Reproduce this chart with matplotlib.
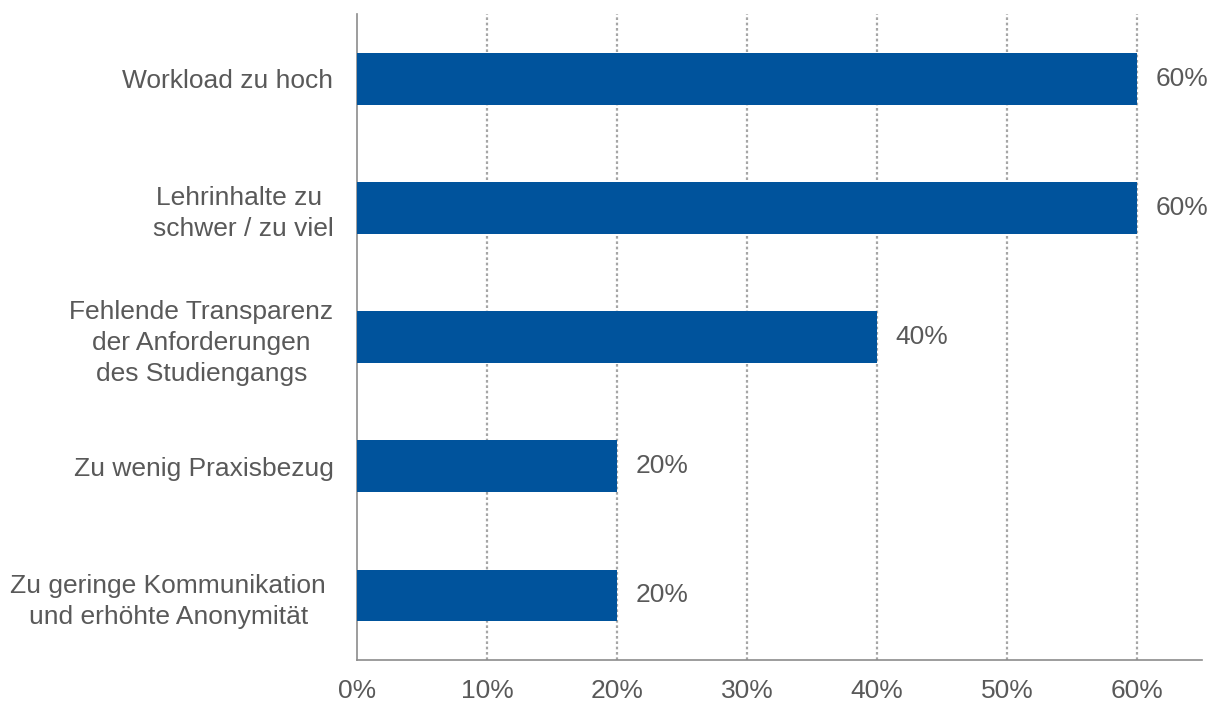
import numpy as np
import matplotlib.pyplot as plt
from matplotlib.ticker import PercentFormatter

plt.rcParams['font.family'] = ['Liberation Sans', 'DejaVu Sans']

categories = [
    "Workload zu hoch",
    "Lehrinhalte zu \nschwer / zu viel",
    "Fehlende Transparenz\nder Anforderungen\ndes Studiengangs",
    "Zu wenig Praxisbezug",
    "Zu geringe Kommunikation \nund erhöhte Anonymität ",
]
values = [0.60, 0.60, 0.40, 0.20, 0.20]
value_labels = ["60%", "60%", "40%", "20%", "20%"]
xticks = [0, 0.1, 0.2, 0.3, 0.4, 0.5, 0.6]

text_color = "#595959"
bar_color = "#00539C"
fs = 19

fig = plt.figure(figsize=(12.16, 7.04), dpi=100)
ax = fig.add_axes([0.2936, 0.0625, 0.695, 0.9175])

y = np.arange(len(categories))
ax.barh(y, values, height=0.4, color=bar_color, zorder=3)

for yi, v, lab in zip(y, values, value_labels):
    ax.text(v + 0.014, yi, lab, va="center", ha="left", fontsize=fs, color=text_color)

ax.set_xlim(0, 0.65)
ax.set_ylim(4.5, -0.5)
ax.set_yticks(y)
ax.set_yticklabels(categories, fontsize=fs, color=text_color,
                   multialignment="center", linespacing=1.36)
ax.tick_params(axis="y", length=0, pad=17)
ax.set_xticks(xticks)
ax.xaxis.set_major_formatter(PercentFormatter(1.0, decimals=0))
ax.tick_params(axis="x", length=0, pad=14, labelsize=fs, labelcolor=text_color)

ax.grid(axis="x", linestyle=(0, (1.2, 1.2)), color="#a6a6a6", linewidth=1.6, zorder=0)
ax.grid(axis="y", visible=False)
ax.xaxis.get_gridlines()[0].set_visible(False)

for s in ["top", "right"]:
    ax.spines[s].set_visible(False)
ax.spines["left"].set_color("#8c8c8c")
ax.spines["bottom"].set_color("#8c8c8c")
ax.spines["left"].set_linewidth(1.2)
ax.spines["bottom"].set_linewidth(1.2)

fig.savefig("out.png", dpi=100)
